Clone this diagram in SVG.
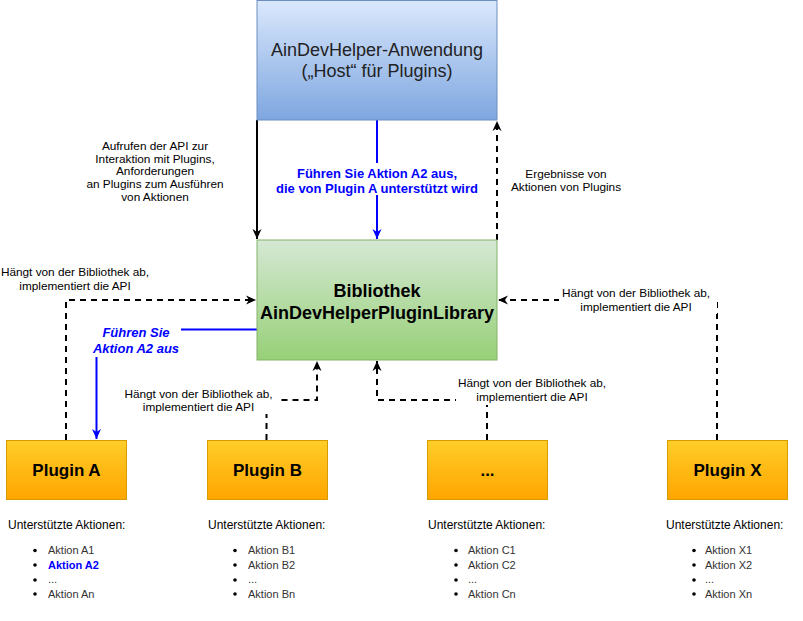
<svg xmlns="http://www.w3.org/2000/svg" width="803" height="621" viewBox="0 0 803 621">
<style>
text{font-family:"Liberation Sans",Arial,sans-serif}
.lbl{font-size:11.8px;fill:#000;text-anchor:middle}
.blue{font-size:13px;font-weight:bold;fill:#0000ff;text-anchor:middle}
.title{font-size:17px;font-weight:bold;fill:#000;text-anchor:middle}
.head{font-size:12px;fill:#000}
.item{font-size:11px;fill:#333}
.sel{font-size:11px;fill:#0000ff;font-weight:bold}
.dash{fill:none;stroke:#000;stroke-width:2;stroke-dasharray:6 5}
.solid{fill:none;stroke:#000;stroke-width:2}
.bl{fill:none;stroke:#0000ff;stroke-width:2}
.plug{fill:url(#gP);stroke:#d79b00;stroke-width:1}
</style>
<defs>
<linearGradient id="gH" x1="0" y1="0" x2="0" y2="1"><stop offset="0" stop-color="#dae8fc"/><stop offset="1" stop-color="#7ea6e0"/></linearGradient>
<linearGradient id="gL" x1="0" y1="0" x2="0" y2="1"><stop offset="0" stop-color="#d5e8d4"/><stop offset="1" stop-color="#97d077"/></linearGradient>
<linearGradient id="gP" x1="0" y1="0" x2="0" y2="1"><stop offset="0" stop-color="#ffcd28"/><stop offset="1" stop-color="#ffa500"/></linearGradient>
<marker id="aK" markerUnits="userSpaceOnUse" markerWidth="12" markerHeight="12" viewBox="0 0 12 12" refX="11" refY="6" orient="auto"><path d="M1,1.5 L11,6 L1,10.5 L4,6 z" fill="#000"/></marker>
<marker id="aB" markerUnits="userSpaceOnUse" markerWidth="12" markerHeight="12" viewBox="0 0 12 12" refX="11" refY="6" orient="auto"><path d="M1,1.5 L11,6 L1,10.5 L4,6 z" fill="#0000ff"/></marker>
</defs>

<g id="connectors">
<line class="solid" x1="257" y1="120" x2="257" y2="239" marker-end="url(#aK)"/>
<line class="bl" x1="377" y1="120" x2="377" y2="239" marker-end="url(#aB)"/>
<line class="dash" x1="497" y1="240" x2="497" y2="121" marker-end="url(#aK)"/>
<polyline class="dash" points="66,440 66,300 256,300" marker-end="url(#aK)"/>
<polyline class="bl" points="257,329.5 96.5,329.5 96.5,439" marker-end="url(#aB)"/>
<polyline class="dash" points="266.5,440 266.5,400 317,400 317,361" marker-end="url(#aK)"/>
<polyline class="dash" points="487,440 487,400 377,400 377,361" marker-end="url(#aK)"/>
<polyline class="dash" points="717,440 717,300 498,300" marker-end="url(#aK)"/>
</g>

<g id="edge-labels">
<g id="lbl-call">
<text class="lbl" x="155" y="150">Aufrufen der API zur</text>
<text class="lbl" x="155" y="162.5">Interaktion mit Plugins,</text>
<text class="lbl" x="155" y="175">Anforderungen</text>
<text class="lbl" x="155" y="188">an Plugins zum Ausführen</text>
<text class="lbl" x="155" y="201">von Aktionen</text>
</g>
<g id="lbl-run">
<rect x="272" y="163" width="210" height="32" fill="#fff"/>
<text class="blue" x="377" y="177.5">Führen Sie Aktion A2 aus,</text>
<text class="blue" x="377" y="192.5">die von Plugin A unterstützt wird</text>
</g>
<g id="lbl-results">
<text class="lbl" x="566" y="178">Ergebnisse von</text>
<text class="lbl" x="566" y="191">Aktionen von Plugins</text>
</g>
<g id="lbl-a">
<text class="lbl" x="75" y="276">Hängt von der Bibliothek ab,</text>
<text class="lbl" x="75" y="290">implementiert die API</text>
</g>
<g id="lbl-runA">
<rect x="91" y="321" width="90" height="36" fill="#fff"/>
<text class="blue" x="136" y="336.5" font-style="italic">Führen Sie</text>
<text class="blue" x="136" y="352.5" font-style="italic">Aktion A2 aus</text>
</g>
<g id="lbl-b">
<rect x="121" y="385" width="157" height="29" fill="#fff"/>
<text class="lbl" x="198.5" y="398">Hängt von der Bibliothek ab,</text>
<text class="lbl" x="198.5" y="411">implementiert die API</text>
</g>
<g id="lbl-c">
<rect x="456" y="374" width="154" height="31" fill="#fff"/>
<text class="lbl" x="532" y="387">Hängt von der Bibliothek ab,</text>
<text class="lbl" x="532" y="401">implementiert die API</text>
</g>
<g id="lbl-x">
<rect x="559" y="284" width="158" height="30" fill="#fff"/>
<text class="lbl" x="636" y="297">Hängt von der Bibliothek ab,</text>
<text class="lbl" x="636" y="311">implementiert die API</text>
</g>
</g>

<g id="host">
<rect x="257" y="0.5" width="240" height="119.5" fill="url(#gH)" stroke="#6c8ebf"/>
<text x="377" y="56" font-size="18" fill="#222" text-anchor="middle">AinDevHelper-Anwendung</text>
<text x="377" y="77" font-size="18" fill="#222" text-anchor="middle">(„Host“ für Plugins)</text>
</g>

<g id="library">
<rect x="257" y="240" width="240" height="120" fill="url(#gL)" stroke="#82b366"/>
<text x="377" y="296.5" font-size="18" font-weight="bold" fill="#000" text-anchor="middle">Bibliothek</text>
<text x="377" y="318.5" font-size="18" font-weight="bold" fill="#000" text-anchor="middle">AinDevHelperPluginLibrary</text>
</g>

<g id="plugin-a">
<rect class="plug" x="6.5" y="440.5" width="120" height="59"/>
<text class="title" x="66.5" y="476">Plugin A</text>
<text class="head" x="8" y="529">Unterstützte Aktionen:</text>
<circle cx="35" cy="550.5" r="1.8"/><text class="item" x="48" y="554">Aktion A1</text>
<circle cx="35" cy="565" r="1.8"/><text class="sel" x="48" y="568.5">Aktion A2</text>
<circle cx="35" cy="580" r="1.8"/><text class="item" x="48" y="583">...</text>
<circle cx="35" cy="594" r="1.8"/><text class="item" x="48" y="597.5">Aktion An</text>
</g>

<g id="plugin-b">
<rect class="plug" x="207.5" y="440.5" width="120" height="59"/>
<text class="title" x="267.5" y="476">Plugin B</text>
<text class="head" x="208" y="529">Unterstützte Aktionen:</text>
<circle cx="235" cy="550.5" r="1.8"/><text class="item" x="248" y="554">Aktion B1</text>
<circle cx="235" cy="565" r="1.8"/><text class="item" x="248" y="568.5">Aktion B2</text>
<circle cx="235" cy="580" r="1.8"/><text class="item" x="248" y="583">...</text>
<circle cx="235" cy="594" r="1.8"/><text class="item" x="248" y="597.5">Aktion Bn</text>
</g>

<g id="plugin-c">
<rect class="plug" x="427.5" y="440.5" width="120" height="59"/>
<text class="title" x="487.5" y="476">...</text>
<text class="head" x="428" y="529">Unterstützte Aktionen:</text>
<circle cx="456" cy="550.5" r="1.8"/><text class="item" x="468" y="554">Aktion C1</text>
<circle cx="456" cy="565" r="1.8"/><text class="item" x="468" y="568.5">Aktion C2</text>
<circle cx="456" cy="580" r="1.8"/><text class="item" x="468" y="583">...</text>
<circle cx="456" cy="594" r="1.8"/><text class="item" x="468" y="597.5">Aktion Cn</text>
</g>

<g id="plugin-x">
<rect class="plug" x="667.5" y="440.5" width="120" height="59"/>
<text class="title" x="727.5" y="476">Plugin X</text>
<text class="head" x="666" y="529">Unterstützte Aktionen:</text>
<circle cx="694" cy="550.5" r="1.8"/><text class="item" x="705" y="554">Aktion X1</text>
<circle cx="694" cy="565" r="1.8"/><text class="item" x="705" y="568.5">Aktion X2</text>
<circle cx="694" cy="580" r="1.8"/><text class="item" x="705" y="583">...</text>
<circle cx="694" cy="594" r="1.8"/><text class="item" x="705" y="597.5">Aktion Xn</text>
</g>
</svg>
